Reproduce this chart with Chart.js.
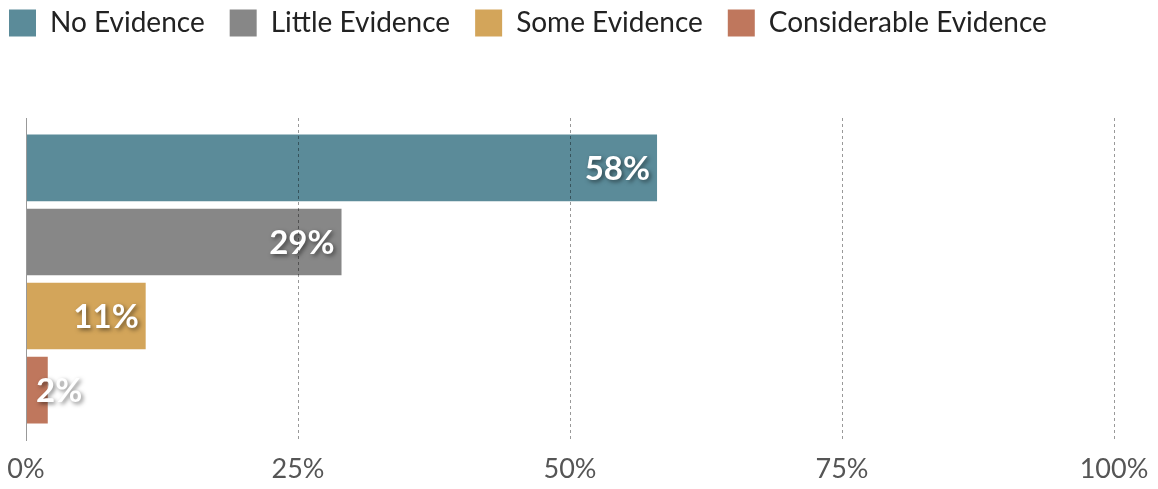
<!DOCTYPE html>
<html>
<head>
<meta charset="utf-8">
<script src="https://cdn.jsdelivr.net/npm/chart.js@4.4.0/dist/chart.umd.min.js"></script>
<style>
  html, body { margin: 0; padding: 0; background: #fff; }
  #wrap { width: 1158px; height: 489px; }
</style>
</head>
<body>
<div id="wrap"><canvas id="myChart"></canvas></div>
<script>
const seriesNames = ['No Evidence', 'Little Evidence', 'Some Evidence', 'Considerable Evidence'];
const seriesValues = [58, 29, 11, 2];
const seriesColors = ['#5b8b99', '#878787', '#d3a55a', '#bf775d'];
const tickValues = [0, 25, 50, 75, 100];

// leyenda: altura fija y desplazada arriba a la izquierda
const legendSpace = {
  id: 'legendSpace',
  beforeInit(chart) {
    const fit = chart.legend.fit;
    chart.legend.fit = function() {
      fit.bind(chart.legend)();
      this.height = 118;
    };
  },
  afterLayout(chart) {
    chart.legend.left -= 16;
    chart.legend.top -= 16;
  }
};

// etiquetas blancas dentro de las barras
const barLabels = {
  id: 'barLabels',
  afterDatasetsDraw(chart) {
    const ctx = chart.ctx;
    ctx.save();
    ctx.font = 'bold 33px Lato';
    ctx.fillStyle = '#ffffff';
    ctx.textBaseline = 'middle';
    ctx.shadowColor = 'rgba(0,0,0,0.5)';
    ctx.shadowOffsetX = 2;
    ctx.shadowOffsetY = 2;
    ctx.shadowBlur = 4;
    chart.data.datasets.forEach((ds, i) => {
      const bar = chart.getDatasetMeta(i).data[0];
      const text = ds.data[0] + '%';
      const w = ctx.measureText(text).width;
      let x = bar.x - 7 - w;
      if (x < bar.base + 10) x = bar.base + 10;
      ctx.fillText(text, x, bar.y + 1);
    });
    ctx.restore();
  }
};

const ctx = document.getElementById('myChart').getContext('2d');
const myChart = new Chart(ctx, {
  type: 'bar',
  data: {
    labels: [''],
    datasets: seriesNames.map((name, i) => ({
      label: name,
      data: [seriesValues[i]],
      backgroundColor: seriesColors[i],
      borderWidth: 0,
      categoryPercentage: 0.92,
      barPercentage: 0.9
    }))
  },
  options: {
    indexAxis: 'y',
    responsive: true,
    maintainAspectRatio: false,
    animation: false,
    layout: { padding: { left: 0, right: 44, top: 0, bottom: 2 } },
    plugins: {
      legend: {
        align: 'start',
        labels: {
          boxWidth: 27,
          boxHeight: 27,
          padding: 25,
          color: '#222',
          font: { family: 'Lato', size: 28 }
        }
      },
      tooltip: { enabled: false }
    },
    scales: {
      x: {
        min: 0,
        max: 100,
        afterBuildTicks(axis) {
          axis.ticks = tickValues.map(v => ({ value: v }));
        },
        afterFit(axis) {
          axis.height = 47;
          axis.paddingLeft = 0;
          axis.paddingRight = 0;
        },
        border: { display: false, dash: [3, 3] },
        grid: {
          z: 1,
          color: 'rgba(0,0,0,0.4)',
          drawTicks: false,
          lineWidth: ctx => ctx.tick && ctx.tick.value === 0 ? 0 : 1
        },
        ticks: {
          padding: 13,
          color: '#555',
          font: { family: 'Lato', size: 27 },
          callback: v => v + '%'
        }
      },
      y: {
        afterFit(axis) { axis.width = 26; },
        border: { display: true, color: '#999', width: 1, z: 1 },
        grid: { display: false },
        ticks: { display: false }
      }
    }
  },
  plugins: [legendSpace, barLabels]
});
</script>
</body>
</html>
